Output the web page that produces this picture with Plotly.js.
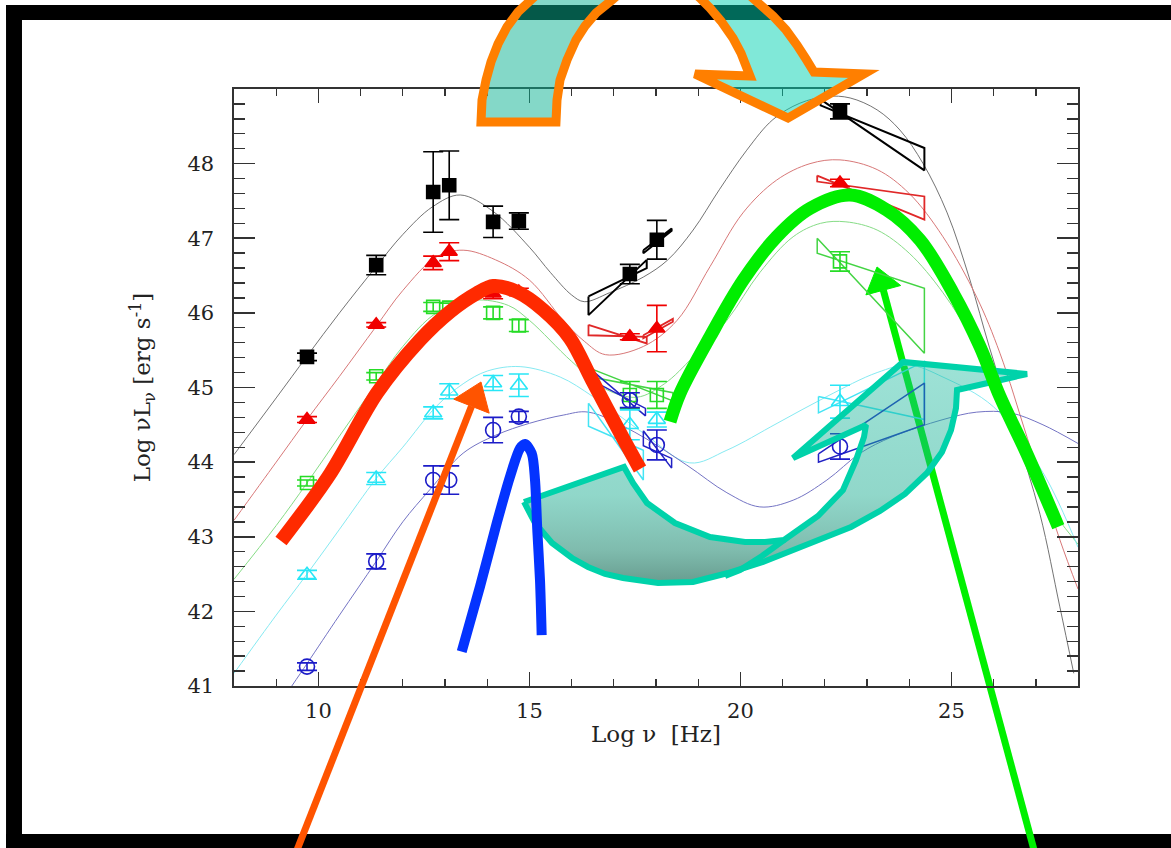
<!DOCTYPE html>
<html>
<head>
<meta charset="utf-8">
<script src="https://cdn.plot.ly/plotly-3.0.1.min.js"></script>
<style>
  html, body { margin: 0; padding: 0; background: #fff; overflow: hidden; }
  #sed { width: 1171px; height: 848px; }
</style>
</head>
<body>
<div id="sed"></div>
<script>
// ---- measured bands (log nu [Hz]) ----
const bandLogNu = [9.73, 11.37, 12.72, 13.10, 14.14, 14.75, 17.38, 18.02, 22.36];

// ---- averaged SEDs of the five luminosity bins: log nuL_nu and errors ----
const bin1L = [45.41, 46.64, 47.62, 47.71, 47.22, 47.23, 46.52, 46.98, 48.70];
const bin1E = [0.05, 0.13, 0.54, 0.46, 0.21, 0.11, 0.13, 0.26, 0.10];
const bin2L = [44.57, 45.84, 46.67, 46.82, 46.26, 46.28, 45.68, 45.79, 47.74];
const bin2E = [0.04, 0.03, 0.09, 0.12, 0.07, 0.05, 0.04, 0.31, 0.05];
const bin3L = [43.72, 45.15, 46.08, 46.07, 46.00, 45.83, 44.90, 44.90, 46.69];
const bin3E = [0.04, 0.05, 0.06, 0.06, 0.08, 0.08, 0.18, 0.18, 0.13];
const bin4L = [42.49, 43.78, 44.66, 44.95, 45.06, 45.03, 44.50, 44.57, 44.81];
const bin4E = [0.06, 0.08, 0.08, 0.10, 0.10, 0.15, 0.20, 0.10, 0.22];
const bin5L = [41.26, 42.67, 43.76, 43.76, 44.43, 44.61, 44.83, 44.23, 44.21];
const bin5E = [0.05, 0.10, 0.19, 0.19, 0.17, 0.07, 0.10, 0.20, 0.17];

// ---- phenomenological model curves for each bin ----
const model1X = [8, 9, 9.73, 10.5, 11.37, 12, 12.7, 13.36, 14.14, 15.0, 15.5, 16.0, 16.3, 16.9, 17.7, 18.28, 18.88, 19.5, 20.15, 20.77, 21.41, 22.05, 22.6, 23.24, 23.78, 24.33, 24.9, 25.44, 25.9, 26.5, 27.1, 27.57, 27.9];
const model1Y = [44.10, 44.86, 45.42, 46.00, 46.62, 47.05, 47.42, 47.58, 47.36, 46.88, 46.54, 46.24, 46.15, 46.27, 46.48, 46.71, 47.11, 47.65, 48.18, 48.59, 48.81, 48.90, 48.88, 48.72, 48.45, 48.00, 47.34, 46.44, 45.54, 44.45, 43.30, 42.06, 41.17];
const model2X = [8, 9, 9.73, 10.5, 11.37, 12, 12.8, 13.43, 14.2, 15.0, 15.8, 16.3, 16.8, 17.7, 18.5, 19.28, 20.06, 20.86, 21.65, 22.36, 23.24, 24.0, 24.8, 25.6, 26.15, 26.8, 27.57, 28];
const model2Y = [43.22, 44.00, 44.57, 45.15, 45.82, 46.30, 46.75, 46.84, 46.71, 46.44, 45.90, 45.62, 45.44, 45.55, 45.90, 46.62, 47.34, 47.78, 48.00, 48.05, 47.92, 47.60, 47.02, 46.21, 45.46, 44.32, 42.96, 42.30];
const model3X = [8, 9, 9.73, 10.5, 11.37, 12, 12.8, 13.7, 14.5, 15.0, 16.0, 16.8, 17.55, 18.2, 18.88, 19.68, 20.46, 21.25, 21.9, 22.5, 23.24, 24.0, 24.8, 25.6, 26.3, 27.1, 28];
const model3Y = [42.43, 43.15, 43.72, 44.35, 45.05, 45.55, 46.00, 46.17, 46.10, 45.90, 45.35, 44.98, 44.87, 45.05, 45.41, 45.90, 46.54, 47.02, 47.20, 47.22, 47.11, 46.80, 46.27, 45.54, 44.65, 43.60, 42.90];
const model4X = [8, 9, 9.73, 10.5, 11.37, 12, 12.8, 13.43, 14.0, 14.78, 15.73, 16.5, 17.7, 18.8, 19.68, 20.87, 22.05, 23.24, 24.0, 24.8, 26.0, 27.17, 28];
const model4Y = [41.17, 41.95, 42.50, 43.10, 43.78, 44.20, 44.75, 45.05, 45.22, 45.28, 45.14, 44.88, 44.39, 43.99, 44.16, 44.52, 44.88, 45.20, 45.30, 45.14, 44.74, 43.86, 42.86];
const model5X = [9.37, 9.73, 10.5, 11.37, 12.0, 12.64, 13.43, 14.2, 15.0, 15.8, 16.4, 17.5, 18.73, 19.68, 20.46, 21.25, 22.05, 22.84, 23.6, 24.8, 25.6, 26.4, 27.17, 28];
const model5Y = [41.00, 41.30, 41.95, 42.67, 43.20, 43.63, 44.12, 44.36, 44.52, 44.63, 44.67, 44.40, 43.96, 43.59, 43.40, 43.49, 43.76, 44.12, 44.34, 44.57, 44.67, 44.66, 44.50, 44.25];

// ---- X-ray and gamma-ray spectral "bow-ties": [nu1, nu2, lineA(nu1), lineA(nu2), lineB(nu1), lineB(nu2)] ----
const bow1 = [[16.40, 17.78, 46.22, 46.60, 45.97, 46.71], [17.70, 18.37, 46.84, 47.13, 46.80, 47.10], [21.90, 24.36, 48.86, 47.91, 48.78, 48.21]];
const bow2 = [[16.40, 17.78, 45.84, 45.59, 45.70, 45.68], [17.70, 18.40, 45.70, 45.92, 45.66, 45.88], [21.82, 24.36, 47.84, 47.25, 47.76, 47.56]];
const bow3 = [[16.38, 18.40, 45.27, 44.82, 45.15, 44.93], [21.82, 24.36, 47.00, 45.46, 46.80, 46.33]];
const bow4 = [[16.40, 17.70, 44.79, 43.76, 44.48, 44.16], [21.85, 24.36, 44.88, 44.57, 44.66, 45.35]];
const bow5 = [[16.40, 17.75, 45.27, 44.62, 45.12, 44.72], [17.70, 18.37, 44.42, 43.92, 44.22, 44.05], [21.85, 24.36, 44.11, 45.06, 44.00, 44.50]];

// ---- hand-drawn emphasis strokes (log nu, log nuL_nu) ----
const syncHumpX = [9.114, 10.275, 11.389, 12.408, 13.119, 13.751, 14.145, 14.699, 15.329, 15.962, 16.483, 17.242, 17.621];
const syncHumpY = [42.943, 43.841, 44.926, 45.637, 46.016, 46.262, 46.360, 46.284, 46.039, 45.659, 45.100, 44.296, 43.908];
const icHumpX = [18.332, 18.569, 19.280, 20.069, 20.860, 21.650, 22.597, 23.467, 24.256, 25.045, 25.678, 26.152, 26.784, 27.533];
const icHumpY = [44.542, 44.922, 45.681, 46.441, 47.021, 47.401, 47.580, 47.379, 46.977, 46.262, 45.547, 44.877, 44.118, 43.135];
const diskBumpX = [13.396, 13.829, 14.225, 14.540, 14.777, 14.896, 15.055, 15.133, 15.187, 15.251, 15.291];
const diskBumpY = [41.460, 42.331, 43.180, 43.805, 44.185, 44.243, 44.118, 43.760, 43.090, 42.420, 41.683];

// curved ribbon arrow from the synchrotron hump to the Compton hump
const ribbonX = [14.872, 15.133, 15.536, 16.010, 16.389, 16.792, 17.218, 18.048, 18.877, 19.706, 20.536, 21.175, 21.792, 22.621, 23.308, 23.900, 24.422, 24.777, 24.991, 25.109, 25.133,
                 26.792, 23.854, 21.247, 22.976,
                 22.929, 22.740, 22.431, 21.839, 21.270, 21.033, 20.583, 20.109, 19.280, 18.450, 17.787, 17.455, 17.242, 14.872];
const ribbonY = [43.466, 43.184, 42.916, 42.715, 42.595, 42.501, 42.447, 42.380, 42.394, 42.514, 42.662, 42.809, 42.956, 43.131, 43.345, 43.573, 43.854, 44.136, 44.430, 44.725, 44.966,
                 45.181, 45.342, 44.055, 44.497,
                 44.337, 44.028, 43.626, 43.278, 43.050, 42.956, 42.930, 42.930, 42.997, 43.184, 43.452, 43.720, 43.935, 43.466];
const ribbonFoldX = [21.033, 20.512, 19.991, 19.635];
const ribbonFoldY = [42.956, 42.742, 42.554, 42.474];

// arching arrow over the top of the frame
const archOuterX = [13.853, 13.877, 13.972, 14.090, 14.256, 14.469, 14.730, 15.062, 15.488, 16.010, 16.673, 17.621, 18.569, 19.280, 19.872, 20.370, 20.773, 21.081, 21.341, 21.555, 21.744];
const archOuterY = [48.558, 48.853, 49.121, 49.362, 49.603, 49.831, 50.032, 50.206, 50.434, 50.621, 50.769, 50.836, 50.782, 50.635, 50.434, 50.179, 49.978, 49.791, 49.590, 49.402, 49.228];
const archHeadX = [22.929, 21.128, 18.924, 20.227];
const archHeadY = [49.201, 48.611, 49.201, 49.174];
const archInnerX = [20.014, 19.825, 19.540, 19.280, 19.066, 18.758, 18.379, 18.000, 17.621, 17.289, 16.957, 16.578, 16.318, 16.104, 15.891, 15.725, 15.654, 15.630];
const archInnerY = [49.482, 49.683, 49.911, 50.085, 50.206, 50.367, 50.474, 50.514, 50.474, 50.353, 50.193, 50.018, 49.844, 49.657, 49.389, 49.121, 48.853, 48.558];

// straight pointer arrows: [tail, head base, tip, barb 1, barb 2]
const pointerOrangeX = [9.493, 13.628, 13.853, 14.047, 13.209];
const pointerOrangeY = [38.802, 44.749, 45.074, 44.656, 44.843];
const pointerGreenX = [26.958, 23.387, 23.237, 23.799, 22.974];
const pointerGreenY = [38.802, 46.304, 46.615, 46.367, 46.241];

// ---------------------------------------------------------------
const X_RANGE = [8, 28], Y_RANGE = [41, 49];
const px = x => (x - X_RANGE[0]) / (X_RANGE[1] - X_RANGE[0]);
const py = y => (y - Y_RANGE[0]) / (Y_RANGE[1] - Y_RANGE[0]);
function paperPath(xs, ys, close) {
  return xs.map((x, i) => (i ? 'L' : 'M') + px(x).toFixed(5) + ',' + py(ys[i]).toFixed(5)).join(' ') + (close ? ' Z' : '');
}

const traces = [];
const noHover = { hoverinfo: 'skip', showlegend: false };

// model curves
[[model1X, model1Y, 'rgba(90,90,90,0.85)'], [model2X, model2Y, '#d87878'], [model3X, model3Y, '#86dc86'],
 [model4X, model4Y, '#86eaf2'], [model5X, model5Y, '#7474c4']].forEach(([x, y, c]) => {
  traces.push(Object.assign({ x, y, mode: 'lines', line: { color: c, width: 1, shape: 'spline', smoothing: 1 } }, noHover));
});

// bow-ties
function addBows(list, color, w) {
  list.forEach(b => {
    const [x1, x2, a1, a2, b1, b2] = b;
    traces.push(Object.assign({ x: [x1, x2, x2, x1, x1], y: [a1, a2, b2, b1, a1], mode: 'lines',
      line: { color, width: w } }, noHover));
  });
}
addBows(bow1, '#000000', 2);
addBows(bow2, '#e02828', 1.8);
addBows(bow3, '#44d444', 1.5);
addBows(bow4, '#44e4f4', 1.5);
addBows(bow5, '#2222c4', 1.5);

// data points with error bars
function addBin(L, E, color, symbol, size) {
  traces.push(Object.assign({
    x: bandLogNu, y: L, mode: 'markers',
    marker: { symbol, size, color, line: { color, width: 1.6 } },
    error_y: { type: 'data', array: E, visible: true, color, thickness: 1.6, width: 10 }
  }, noHover));
}
addBin(bin1L, bin1E, '#000000', 'square', 13);
addBin(bin2L, bin2E, '#f00000', 'triangle-up', 14);
addBin(bin3L, bin3E, '#26dc26', 'square-open', 13);
addBin(bin4L, bin4E, '#28e6f6', 'triangle-up-open', 15);
addBin(bin5L, bin5E, '#1c1cc8', 'circle-open', 15);

// ribbon arrow (translucent, shaded from top to bottom)
traces.push(Object.assign({
  x: ribbonX, y: ribbonY, mode: 'lines', fill: 'toself',
  fillgradient: { type: 'vertical', colorscale: [
    [0, 'rgba(26,105,85,0.66)'], [0.15, 'rgba(27,135,110,0.56)'],
    [0.4, 'rgba(25,172,144,0.48)'], [1, 'rgba(22,186,158,0.42)']] },
  line: { color: '#00d2aa', width: 6 }
}, noHover));
traces.push(Object.assign({ x: ribbonFoldX, y: ribbonFoldY, mode: 'lines', line: { color: '#00d2aa', width: 6 } }, noHover));

// emphasis strokes
traces.push(Object.assign({ x: diskBumpX, y: diskBumpY, mode: 'lines', line: { color: '#0433ff', width: 10, shape: 'spline', smoothing: 0.8 } }, noHover));
traces.push(Object.assign({ x: syncHumpX, y: syncHumpY, mode: 'lines', line: { color: '#ff2a00', width: 14, shape: 'spline', smoothing: 0.9 } }, noHover));
traces.push(Object.assign({ x: icHumpX, y: icHumpY, mode: 'lines', line: { color: '#00ee00', width: 13, shape: 'spline', smoothing: 1 } }, noHover));

// ---- decorations drawn in paper space ----
const shapes = [];
// heavy black border (top, left, bottom)
const frame = { type: 'rect', xref: 'paper', yref: 'paper', fillcolor: '#000', line: { width: 0 }, layer: 'below' };
shapes.push(Object.assign({}, frame, { x0: -0.2701, x1: 1.13, y0: 1.1156, y1: 1.1407 }));
shapes.push(Object.assign({}, frame, { x0: -0.2701, x1: -0.2512, y0: -0.29, y1: 1.1407 }));
shapes.push(Object.assign({}, frame, { x0: -0.2701, x1: 1.13, y0: -0.29, y1: -0.2479 }));

// green pointer (beneath the data)
shapes.push({ type: 'path', xref: 'paper', yref: 'paper', layer: 'below',
  path: paperPath(pointerGreenX.slice(0, 2), pointerGreenY.slice(0, 2), false),
  line: { color: '#00f000', width: 7 } });
shapes.push({ type: 'path', xref: 'paper', yref: 'paper', layer: 'below',
  path: paperPath(pointerGreenX.slice(2), pointerGreenY.slice(2), true),
  fillcolor: '#00f000', line: { color: '#00f000', width: 1 } });

// orange pointer
shapes.push({ type: 'path', xref: 'paper', yref: 'paper', layer: 'above',
  path: paperPath(pointerOrangeX.slice(0, 2), pointerOrangeY.slice(0, 2), false),
  line: { color: '#ff5400', width: 7 } });
shapes.push({ type: 'path', xref: 'paper', yref: 'paper', layer: 'above',
  path: paperPath(pointerOrangeX.slice(2), pointerOrangeY.slice(2), true),
  fillcolor: '#ff5400', line: { color: '#ff5400', width: 1 } });

// arching arrow: two translucent halves plus an orange outline
const split = 11, innerSplit = 7;
shapes.push({ type: 'path', xref: 'paper', yref: 'paper', layer: 'above', line: { width: 0 },
  fillcolor: 'rgba(9,177,145,0.5)',
  path: paperPath(archOuterX.slice(0, split + 1).concat(archInnerX.slice(innerSplit)),
                  archOuterY.slice(0, split + 1).concat(archInnerY.slice(innerSplit)), true) });
shapes.push({ type: 'path', xref: 'paper', yref: 'paper', layer: 'above', line: { width: 0 },
  fillcolor: 'rgba(1,209,177,0.5)',
  path: paperPath(archOuterX.slice(split).concat(archHeadX, archInnerX.slice(0, innerSplit + 1)),
                  archOuterY.slice(split).concat(archHeadY, archInnerY.slice(0, innerSplit + 1)), true) });
shapes.push({ type: 'path', xref: 'paper', yref: 'paper', layer: 'above', fillcolor: 'rgba(0,0,0,0)',
  line: { color: '#ff7f00', width: 9 },
  path: paperPath(archOuterX.concat(archHeadX, archInnerX), archOuterY.concat(archHeadY, archInnerY), true) });

const axisFont = { family: 'DejaVu Serif, serif', size: 21, color: '#222' };
const titleFont = { family: 'DejaVu Serif, serif', size: 23, color: '#222' };
const layout = {
  width: 1171, height: 848,
  margin: { l: 234, r: 93, t: 89, b: 162 },
  paper_bgcolor: '#ffffff', plot_bgcolor: '#ffffff',
  showlegend: false,
  xaxis: {
    range: X_RANGE, tickmode: 'array', tickvals: [10, 15, 20, 25],
    ticks: 'inside', ticklen: 14, tickwidth: 1.6, tickcolor: '#333',
    showline: true, linecolor: '#333', linewidth: 1.6, mirror: 'allticks',
    showgrid: false, zeroline: false, tickfont: axisFont, ticklabelstandoff: 5,
    minor: { tickmode: 'linear', tick0: 8, dtick: 1, ticks: 'inside', ticklen: 7, tickwidth: 1.4, tickcolor: '#333', showgrid: false },
    title: { text: 'Log ν\u00a0\u00a0[Hz]', font: titleFont, standoff: 4 }
  },
  yaxis: {
    range: Y_RANGE, tickmode: 'array', tickvals: [41, 42, 43, 44, 45, 46, 47, 48],
    ticks: 'inside', ticklen: 21, tickwidth: 1.6, tickcolor: '#333',
    showline: true, linecolor: '#333', linewidth: 1.6, mirror: 'allticks',
    showgrid: false, zeroline: false, tickfont: axisFont, ticklabelstandoff: 14,
    minor: { tickmode: 'linear', tick0: 41, dtick: 0.2, ticks: 'inside', ticklen: 11, tickwidth: 1.4, tickcolor: '#333', showgrid: false },
    title: { text: 'Log νL<sub>ν</sub> [erg s<sup>-1</sup>]', font: titleFont, standoff: 30 }
  },
  shapes
};

Plotly.newPlot('sed', traces, layout, { displayModeBar: false, staticPlot: true });
</script>
</body>
</html>
